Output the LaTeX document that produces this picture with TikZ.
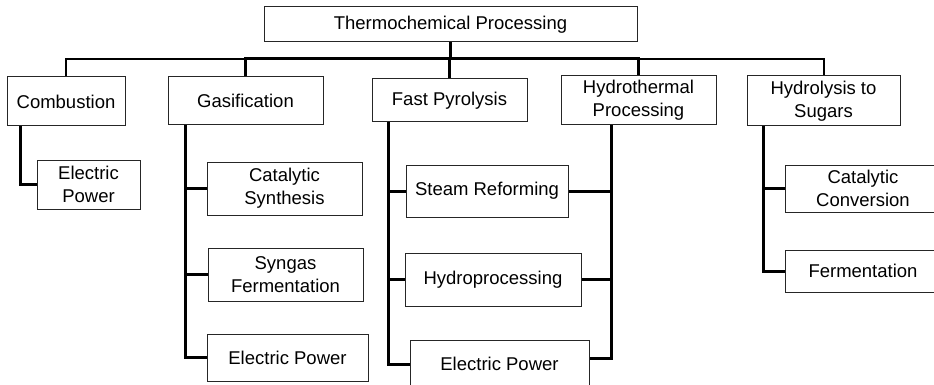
\documentclass[tikz,border=0pt]{standalone}
\usepackage{fontspec}
\setmainfont{Liberation Sans}
\usepackage{tikz}
\usetikzlibrary{calc}

\tikzset{
  box/.style={draw=black!85, line width=1pt, inner sep=0pt, align=center,
    font=\fontsize{18.5}{23}\selectfont},
  link/.style={line width=3pt, line cap=butt},
  thinlink/.style={line width=2pt, line cap=butt}
}

\begin{document}
\begin{tikzpicture}[x=1pt, y=-1pt]
\useasboundingbox (0,0) rectangle (934,385);
\clip (0,0) rectangle (934,385);
\coordinate (bar) at (0,59);
\node[box, minimum width=373, minimum height=35] (root) at (450.5,24.5) {Thermochemical Processing};
\node[box, minimum width=118, minimum height=49] (comb) at (66,101.5) {Combustion};
\node[box, minimum width=155, minimum height=48] (gasif) at (245.5,101) {Gasification};
\node[box, minimum width=155, minimum height=43] (pyro) at (449.5,100.5) {Fast Pyrolysis};
\node[box, minimum width=155, minimum height=49] (hydro) at (638.5,100.5) {Hydrothermal\\Processing};
\node[box, minimum width=153, minimum height=50] (sugar) at (823.5,101) {Hydrolysis to\\Sugars};
\node[box, minimum width=103, minimum height=49] (combpower) at (88.5,184.5) {Electric\\Power};
\node[box, minimum width=155, minimum height=53] (catsyn) at (284.5,188.5) {Catalytic\\Synthesis};
\node[box, minimum width=155, minimum height=53] (syngas) at (285.5,274.5) {Syngas\\Fermentation};
\node[box, minimum width=161, minimum height=47] (gaspower) at (287.5,357.5) {Electric Power};
\node[box, minimum width=162, minimum height=52] (steam) at (487,191) {Steam Reforming};
\node[box, minimum width=176, minimum height=53] (hydroproc) at (493,279.5) {Hydroprocessing};
\node[box, minimum width=179, minimum height=48] (pyropower) at (499.5,364) {Electric Power};
\node[box, minimum width=156, minimum height=47] (catconv) at (863,188.5) {Catalytic\\Conversion};
\node[box, minimum width=156, minimum height=42] (ferment) at (863,271) {Fermentation};
\draw[thinlink] (comb.north) |- (sugar.north |- bar) -- (sugar.north);
\draw[link] (gasif.north) |- (hydro.north |- bar) -- (hydro.north);
\draw[link] (root.south) -- (root.south |- bar);
\draw[link] (pyro.north) -- (pyro.north |- bar);
\draw[link] (comb.south -| 20,0) |- (combpower.west);
\draw[link] (gasif.south -| 185,0) |- (gaspower.west);
\draw[link] (catsyn.west) -- (catsyn.west -| 185,0);
\draw[link] (syngas.west) -- (syngas.west -| 185,0);
\draw[link] (pyro.south -| 388,0) |- (pyropower.west);
\draw[link] (steam.west) -- (steam.west -| 388,0);
\draw[link] (hydroproc.west) -- (hydroproc.west -| 388,0);
\draw[link] (hydro.south -| 611,0) |- ($(pyropower.east)+(0,-6)$);
\draw[link] (steam.east) -- (steam.east -| 611,0);
\draw[link] (hydroproc.east) -- (hydroproc.east -| 611,0);
\draw[link] (sugar.south -| 763,0) |- (ferment.west);
\draw[link] (catconv.west) -- (catconv.west -| 763,0);
\end{tikzpicture}
\end{document}
